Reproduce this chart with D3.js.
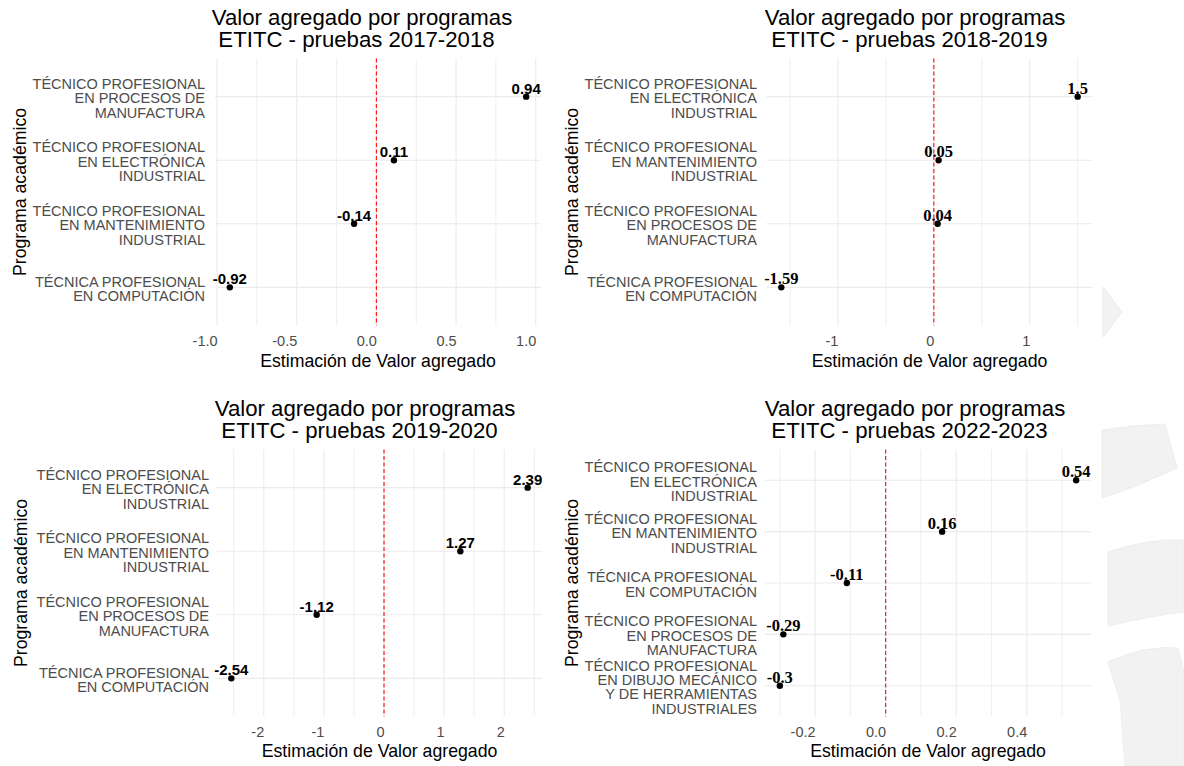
<!DOCTYPE html>
<html>
<head>
<meta charset="utf-8">
<script src="https://cdn.jsdelivr.net/npm/d3@7"></script>
<style>
  html, body { margin: 0; padding: 0; background: #ffffff; }
  svg { display: block; }
</style>
</head>
<body>
<svg id="chart" width="1184" height="766"></svg>
<script>
// ---------- DATA ----------
const titleLine1 = "Valor agregado por programas";
const titles = [
  "ETITC - pruebas 2017-2018",
  "ETITC - pruebas 2018-2019",
  "ETITC - pruebas 2019-2020",
  "ETITC - pruebas 2022-2023"
];
const xAxisTitle = "Estimación de Valor agregado";
const yAxisTitle = "Programa académico";

const cats1 = [
  "TÉCNICO PROFESIONAL|EN PROCESOS DE|MANUFACTURA",
  "TÉCNICO PROFESIONAL|EN ELECTRÓNICA|INDUSTRIAL",
  "TÉCNICO PROFESIONAL|EN MANTENIMIENTO|INDUSTRIAL",
  "TÉCNICA PROFESIONAL|EN COMPUTACIÓN"
];
const vals1 = [0.94, 0.11, -0.14, -0.92];

const cats2 = [
  "TÉCNICO PROFESIONAL|EN ELECTRÓNICA|INDUSTRIAL",
  "TÉCNICO PROFESIONAL|EN MANTENIMIENTO|INDUSTRIAL",
  "TÉCNICO PROFESIONAL|EN PROCESOS DE|MANUFACTURA",
  "TÉCNICA PROFESIONAL|EN COMPUTACIÓN"
];
const vals2 = [1.5, 0.05, 0.04, -1.59];

const cats3 = [
  "TÉCNICO PROFESIONAL|EN ELECTRÓNICA|INDUSTRIAL",
  "TÉCNICO PROFESIONAL|EN MANTENIMIENTO|INDUSTRIAL",
  "TÉCNICO PROFESIONAL|EN PROCESOS DE|MANUFACTURA",
  "TÉCNICA PROFESIONAL|EN COMPUTACIÓN"
];
const vals3 = [2.39, 1.27, -1.12, -2.54];

const cats4 = [
  "TÉCNICO PROFESIONAL|EN ELECTRÓNICA|INDUSTRIAL",
  "TÉCNICO PROFESIONAL|EN MANTENIMIENTO|INDUSTRIAL",
  "TÉCNICA PROFESIONAL|EN COMPUTACIÓN",
  "TÉCNICO PROFESIONAL|EN PROCESOS DE|MANUFACTURA",
  "TÉCNICO PROFESIONAL|EN DIBUJO MECÁNICO|Y DE HERRAMIENTAS|INDUSTRIALES"
];
const vals4 = [0.54, 0.16, -0.11, -0.29, -0.3];

const ticks1 = [-1, -0.5, 0, 0.5, 1];
const tickLabels1 = ["-1.0", "-0.5", "0.0", "0.5", "1.0"];
const minor1 = [-0.75, -0.25, 0.25, 0.75];

const ticks2 = [-1, 0, 1];
const tickLabels2 = ["-1", "0", "1"];
const minor2 = [-1.5, -0.5, 0.5, 1.5];

const ticks3 = [-2, -1, 0, 1, 2];
const tickLabels3 = ["-2", "-1", "0", "1", "2"];
const minor3 = [-2.5, -1.5, -0.5, 0.5, 1.5, 2.5];

const ticks4 = [-0.2, 0, 0.2, 0.4];
const tickLabels4 = ["-0.2", "0.0", "0.2", "0.4"];
const minor4 = [-0.3, -0.1, 0.1, 0.3, 0.5];

const refLine = 0;

// ---------- LAYOUT ----------
const panels = [
  { cats: cats1, vals: vals1, ticks: ticks1, tickLabels: tickLabels1, minor: minor1, title: titles[0],
    left: 215, top: 58.5, bottom: 325.5, tickY: 346, axisTitleY: 367, titleY: 25, titleCX: 362,
    labRight: 205, yTitleX: 26, labelFont: "'Liberation Sans', Arial, sans-serif", labelSize: 15 },
  { cats: cats2, vals: vals2, ticks: ticks2, tickLabels: tickLabels2, minor: minor2, title: titles[1],
    left: 766.5, top: 58.5, bottom: 325.5, tickY: 346, axisTitleY: 367, titleY: 25, titleCX: 915,
    labRight: 757, yTitleX: 578, labelFont: "'Liberation Serif', 'Times New Roman', serif", labelSize: 16.5 },
  { cats: cats3, vals: vals3, ticks: ticks3, tickLabels: tickLabels3, minor: minor3, title: titles[2],
    left: 216.5, top: 449.5, bottom: 716.5, tickY: 737, axisTitleY: 757, titleY: 416, titleCX: 365,
    labRight: 209, yTitleX: 27, labelFont: "'Liberation Sans', Arial, sans-serif", labelSize: 15 },
  { cats: cats4, vals: vals4, ticks: ticks4, tickLabels: tickLabels4, minor: minor4, title: titles[3],
    left: 765, top: 449.5, bottom: 716.5, tickY: 737, axisTitleY: 757, titleY: 416, titleCX: 915,
    labRight: 757, yTitleX: 578, labelFont: "'Liberation Serif', 'Times New Roman', serif", labelSize: 16.5 }
];
const panelWidth = 326;
const sans = "'Liberation Sans', Arial, sans-serif";

const svg = d3.select("#chart");

// faint watermark shapes in the background
const wm = svg.append("g").attr("fill", "#f2f2f2").attr("stroke", "#ededed").attr("stroke-width", 1);
wm.append("path").attr("d", "M1103,287 L1122,312 L1103,337 Z");
wm.append("path").attr("d", "M1102,430 Q1135,425 1165,424 L1177,468 Q1140,486 1102,498 Z");
wm.append("path").attr("d", "M1108,552 Q1150,538 1184,540 L1184,612 Q1150,616 1108,626 Z");
wm.append("path").attr("d", "M1108,662 Q1145,645 1178,648 L1184,672 L1184,766 L1125,766 L1120,700 Z");

panels.forEach(p => {
  const g = svg.append("g");
  const right = p.left + panelWidth;

  const ext = d3.extent(p.vals.concat([refLine]));
  const pad = (ext[1] - ext[0]) * 0.05;
  const x = d3.scaleLinear().domain([ext[0] - pad, ext[1] + pad]).range([p.left, right]);
  const y = d3.scalePoint().domain(p.cats).range([p.top, p.bottom]).padding(0.6);

  // grid: minor vertical
  g.selectAll(".minor").data(p.minor).join("line")
    .attr("x1", d => x(d)).attr("x2", d => x(d))
    .attr("y1", p.top).attr("y2", p.bottom)
    .attr("stroke", "#efefef").attr("stroke-width", 1);
  // grid: major vertical
  g.selectAll(".major").data(p.ticks).join("line")
    .attr("x1", d => x(d)).attr("x2", d => x(d))
    .attr("y1", p.top).attr("y2", p.bottom)
    .attr("stroke", "#ebebeb").attr("stroke-width", 1.1);
  // grid: horizontal
  g.selectAll(".hgrid").data(p.cats).join("line")
    .attr("x1", p.left).attr("x2", right)
    .attr("y1", d => y(d)).attr("y2", d => y(d))
    .attr("stroke", "#ebebeb").attr("stroke-width", 1.1);

  // reference dashed line
  g.append("line")
    .attr("x1", x(refLine)).attr("x2", x(refLine))
    .attr("y1", p.top).attr("y2", p.bottom)
    .attr("stroke", "#ff1a1a").attr("stroke-width", 1.2)
    .attr("stroke-dasharray", "4,2.5");

  // x tick labels (right aligned at tick, as in reference)
  g.selectAll(".tick").data(p.ticks).join("text")
    .attr("x", d => x(d) + 0.5).attr("y", p.tickY)
    .attr("text-anchor", "end")
    .attr("font-family", sans).attr("font-size", 14.5).attr("fill", "#4d4d4d")
    .text((d, i) => p.tickLabels[i]);

  // y category labels
  p.cats.forEach(c => {
    const lines = c.split("|");
    const lh = 14.4;
    const cy = y(c);
    const t = g.append("text")
      .attr("text-anchor", "end")
      .attr("font-family", sans).attr("font-size", 14.5).attr("fill", "#4d4d4d");
    lines.forEach((ln, i) => {
      t.append("tspan")
        .attr("x", p.labRight)
        .attr("y", cy + (i - (lines.length - 1) / 2) * lh + 6.5)
        .text(ln);
    });
  });

  // points
  g.selectAll(".pt").data(p.vals).join("circle")
    .attr("cx", d => x(d)).attr("cy", (d, i) => y(p.cats[i]))
    .attr("r", 3.2).attr("fill", "#000");

  // value labels
  g.selectAll(".vl").data(p.vals).join("text")
    .attr("x", d => x(d)).attr("y", (d, i) => y(p.cats[i]) - 3)
    .attr("text-anchor", "middle")
    .attr("font-family", p.labelFont).attr("font-weight", "bold")
    .attr("font-size", p.labelSize).attr("fill", "#000")
    .text(d => String(d));

  // axis titles
  g.append("text")
    .attr("x", (p.left + right) / 2).attr("y", p.axisTitleY)
    .attr("text-anchor", "middle")
    .attr("font-family", sans).attr("font-size", 17.7).attr("fill", "#000")
    .text(xAxisTitle);

  g.append("text")
    .attr("transform", `translate(${p.yTitleX},${(p.top + p.bottom) / 2}) rotate(-90)`)
    .attr("text-anchor", "middle")
    .attr("font-family", sans).attr("font-size", 17.7).attr("fill", "#000")
    .text(yAxisTitle);

  // plot title (two lines in one text element)
  const tt = g.append("text")
    .attr("text-anchor", "middle")
    .attr("font-family", sans).attr("font-size", 22.2).attr("fill", "#000");
  tt.append("tspan").attr("x", p.titleCX).attr("y", p.titleY).text(titleLine1);
  tt.append("tspan").attr("x", p.titleCX - 5.5).attr("y", p.titleY + 21.5).text(p.title);
});
</script>
</body>
</html>
